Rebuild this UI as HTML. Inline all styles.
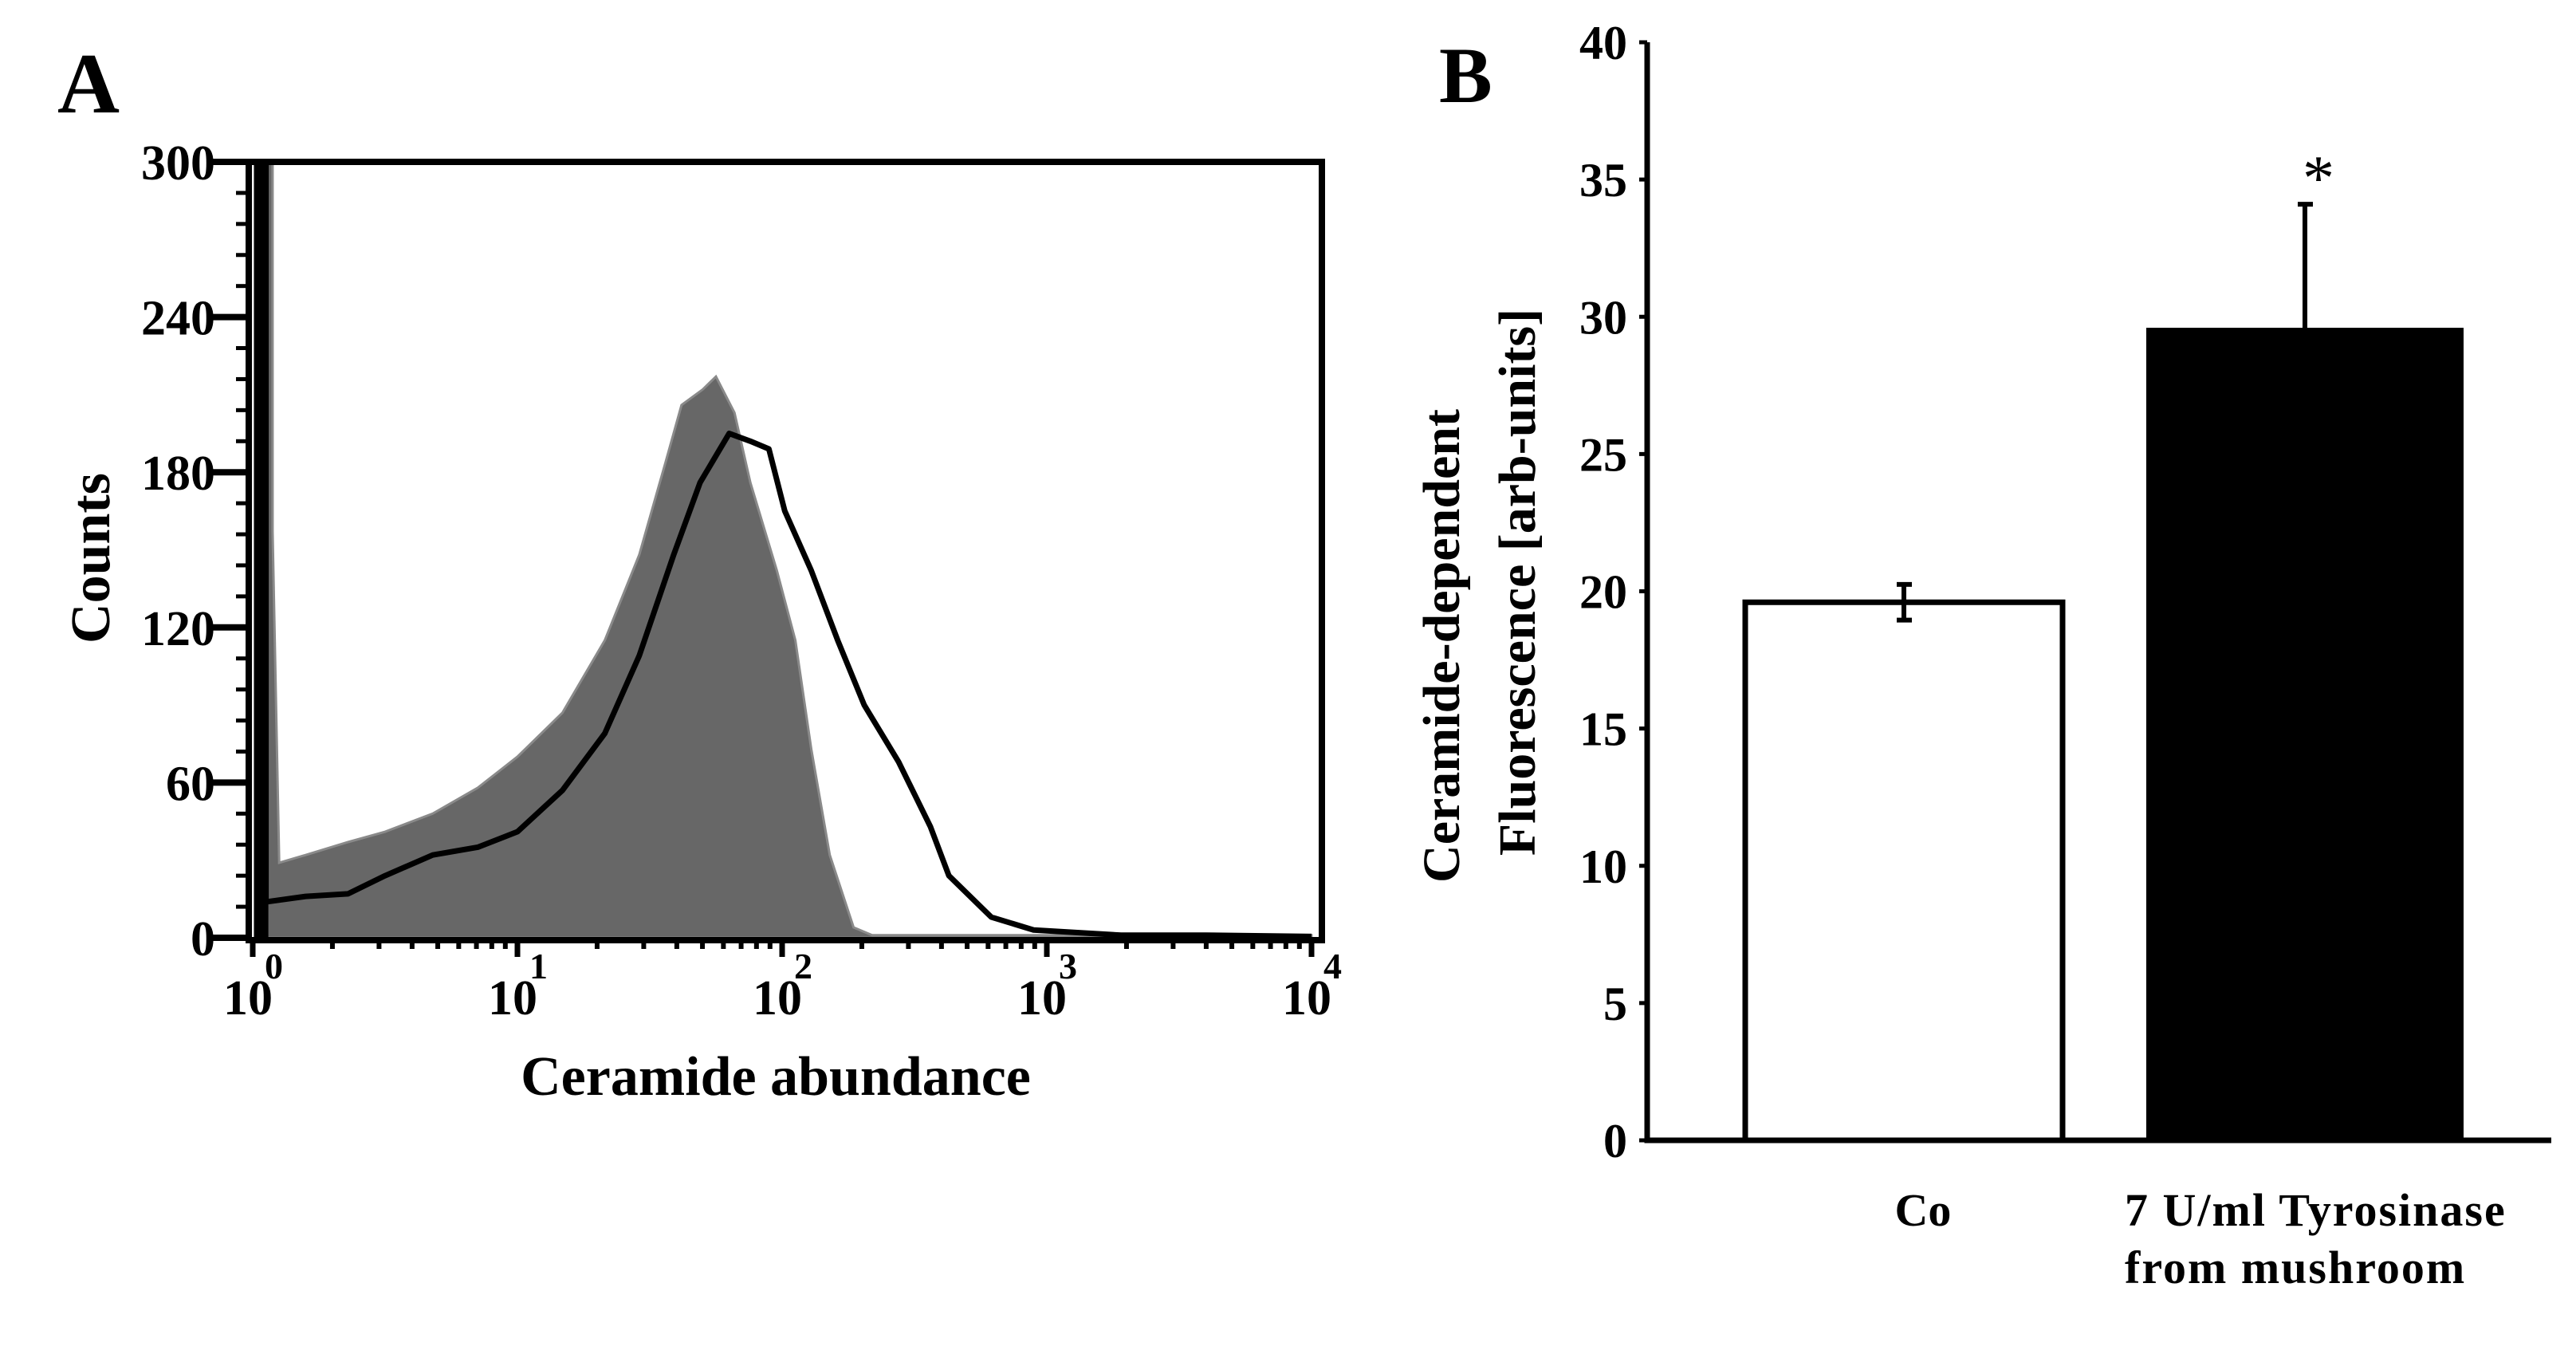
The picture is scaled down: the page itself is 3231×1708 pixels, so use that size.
<!DOCTYPE html>
<html><head><meta charset="utf-8"><style>
html,body{margin:0;padding:0;background:#fff;}
svg{display:block;font-family:"Liberation Serif",serif;font-weight:bold;}
</style></head><body>
<svg id="fig" width="3231" height="1708" viewBox="0 0 3231 1708" xmlns="http://www.w3.org/2000/svg">
<rect x="0" y="0" width="3231" height="1708" fill="#fff"/>
<g id="panelA"></g>
<g id="panelB"></g>
</svg>
<script>
// ---- Panel A data (log10 of ceramide abundance, counts) ----
const grayLog =   [0.05,0.05,0.075,0.075,0.1,0.2,0.36,0.5,0.68,0.85,1.0,1.17,1.33,1.46,1.56,1.62,1.7,1.75,1.82,1.88,1.98,2.05,2.11,2.18,2.27,2.34,2.6,3.0,3.5,4.0];
const grayCount = [300,300,300,157,29,32,37,41,48,58,70,87,115,148,184,206,212,217,203,176,142,115,73,32,4,1,1,1,1,1];
const lineLog =   [0.015,0.015,0.05,0.05,0.06,0.2,0.36,0.5,0.68,0.85,1.0,1.17,1.33,1.46,1.59,1.69,1.8,1.88,1.95,2.01,2.11,2.21,2.31,2.44,2.56,2.63,2.79,2.95,3.28,3.6,4.0];
const lineCount = [0,300,300,14,14,16,17,24,32,35,41,57,79,109,148,176,195,192,189,165,142,115,90,68,43,24,8,3,1,1,0.5];
const yTicksA = [0,60,120,180,240,300];
const xDecades = [0,1,2,3,4];
// ---- Panel B data ----
const categories = ["Co","7 U/ml Tyrosinase|from mushroom"];
const barValues = [19.6,29.6];
const barErrors = [0.65,4.5];
const yTicksB = [0,5,10,15,20,25,30,35,40];

const NS="http://www.w3.org/2000/svg";
function mk(parent,tag,attrs,text){const e=document.createElementNS(NS,tag);for(const k in attrs)e.setAttribute(k,attrs[k]);if(text!==undefined)e.textContent=text;parent.appendChild(e);return e;}

// ---- Panel A ----
const A=document.getElementById('panelA');
const ax0=317, axDec=332, ay0=1176, ayScale=(1176-203)/300;
const xA=v=>ax0+v*axDec, yA=c=>ay0-c*ayScale;
let d="M"+xA(grayLog[0])+","+yA(0);
for(let i=0;i<grayLog.length;i++) d+=" L"+xA(grayLog[i])+","+yA(grayCount[i]);
d+=" L"+xA(grayLog[grayLog.length-1])+","+yA(0)+" Z";
let p=mk(A,'path',{d:d,fill:'#676767',stroke:'#8a8a8a','stroke-width':3});


// solid spike bar at low end of treated histogram
let sp=mk(A,'rect',{x:xA(lineLog[0])-3,y:yA(lineCount[1]),width:xA(lineLog[2])-xA(lineLog[0])+6,height:yA(0)-yA(lineCount[1]),fill:'#000'});


let dl="";
for(let i=0;i<lineLog.length;i++) dl+=(i?" L":"M")+xA(lineLog[i])+","+yA(lineCount[i]);
p=mk(A,'path',{d:dl,fill:'none',stroke:'#000','stroke-width':7,'stroke-linejoin':'round'});


// frame
let fr=mk(A,'rect',{x:312,y:203,width:1346,height:976,fill:'none',stroke:'#000','stroke-width':8});


// y ticks
for(let c=0;c<=300;c+=12){const major=c%60===0;
 let t=mk(A,'line',{x1:major?262:296,x2:312,y1:yA(c),y2:yA(c),stroke:'#000','stroke-width':major?8:5});
 
 }
yTicksA.forEach(c=>{let t=mk(A,'text',{x:270,y:yA(c)+22,'font-size':62,'text-anchor':'end'},String(c));
 
 });
// x ticks
for(let k=0;k<4;k++){for(let m=2;m<=9;m++){const xx=xA(k+Math.log10(m));
 let t=mk(A,'line',{x1:xx,x2:xx,y1:1179,y2:1190,stroke:'#000','stroke-width':6});
 
 }}
xDecades.forEach(k=>{const xx=xA(k);
 let t=mk(A,'line',{x1:xx,x2:xx,y1:1179,y2:1200,stroke:'#000','stroke-width':7});
 
 
 let g=mk(A,'text',{x:xx+25,y:1272,'font-size':62,'text-anchor':'end'},"10");
 
 
 let e=mk(A,'text',{x:xx+15,y:1227,'font-size':46},String(k));
 
 });
let tt=mk(A,'text',{x:973,y:1373,'font-size':70,'text-anchor':'middle'},"Ceramide abundance");


tt=mk(A,'text',{x:0,y:0,'font-size':70,'text-anchor':'middle',transform:'translate(137,700) rotate(-90)'},"Counts");


tt=mk(A,'text',{x:72,y:141,'font-size':108},"A");



// ---- Panel B ----
const B=document.getElementById('panelB');
const by0=1430, byScale=(1430-53)/40, bx=2066;
const yB=v=>by0-v*byScale;
const barLeft=[2189,2692], barW=398;
let ax=mk(B,'path',{d:"M"+bx+","+yB(40)+" L"+bx+","+by0+" L3200,"+by0,fill:'none',stroke:'#000','stroke-width':7});


yTicksB.forEach(v=>{let t=mk(B,'line',{x1:2056,x2:bx,y1:yB(v),y2:yB(v),stroke:'#000','stroke-width':5});
 
 
 let l=mk(B,'text',{x:2041,y:yB(v)+21,'font-size':60,'text-anchor':'end'},String(v));
 
 });
barValues.forEach((v,i)=>{const x0=barLeft[i], cx=x0+barW/2;
 const filled=i===1;
 let r=mk(B,'rect',{x:x0,y:yB(v),width:barW,height:by0-yB(v),fill:filled?'#000':'#fff',stroke:'#000','stroke-width':filled?0:7});
 
 
 const lo=filled?v:v-barErrors[i], hi=v+barErrors[i];
 let e=mk(B,'path',{d:"M"+cx+","+yB(lo)+" L"+cx+","+yB(hi)+" M"+(cx-9)+","+yB(hi)+" L"+(cx+10)+","+yB(hi)+(filled?"":" M"+(cx-9)+","+yB(lo)+" L"+(cx+10)+","+yB(lo)),stroke:'#000','stroke-width':6,fill:'none'});
 
 
 const parts=categories[i].split('|');
 parts.forEach((s,j)=>{let l=mk(B,'text',{x:filled?2665:cx+24,y:1537+j*72,'font-size':58,'text-anchor':filled?'start':'middle','letter-spacing':filled?2:0},s);
  
  });
});
let st=mk(B,'text',{x:2908,y:250,'font-size':80,'text-anchor':'middle',style:'font-weight:normal'},"*");


let y1=mk(B,'text',{x:0,y:0,'font-size':66,'text-anchor':'middle',transform:'translate(1830,810) rotate(-90)'},"Ceramide-dependent");


let y2=mk(B,'text',{x:0,y:0,'font-size':66,'text-anchor':'middle',transform:'translate(1925,730) rotate(-90)'},"Fluorescence [arb-units]");


let lb=mk(B,'text',{x:1805,y:128,'font-size':100},"B");


</script>
</body></html>
